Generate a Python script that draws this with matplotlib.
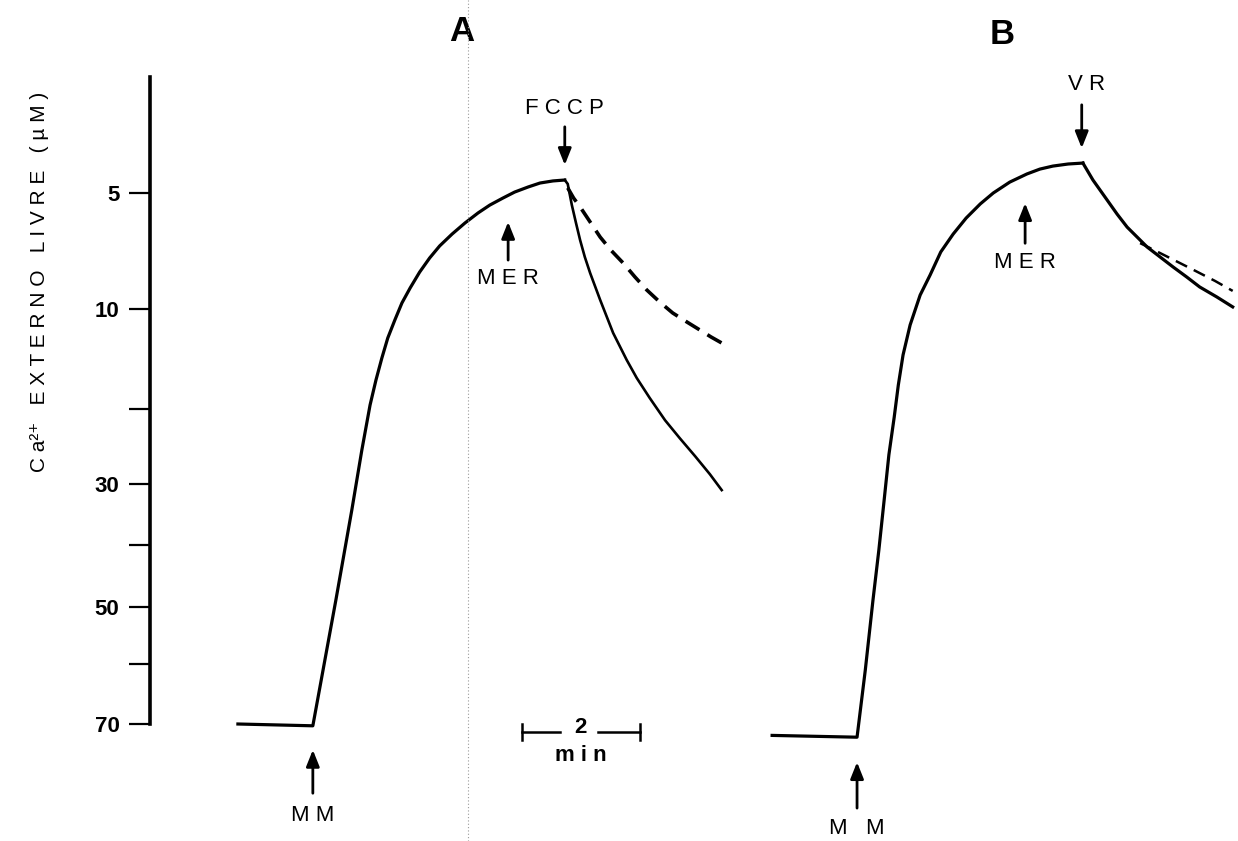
import numpy as np
import matplotlib
matplotlib.use('Agg')
import matplotlib.pyplot as plt
from matplotlib.lines import Line2D
from matplotlib.ticker import NullLocator

plt.rcParams['font.family'] = ['Liberation Sans', 'DejaVu Sans']

# electrode calibration of the chart: free Ca (uM) -> chart position (px from top)
cal_conc = [0, 5, 10, 20, 30, 40, 50, 60, 70, 80, 90]
cal_pos = [77, 193, 309, 409, 484, 545, 607, 664, 724, 784, 844]

ytick_vals = [5, 10, 20, 30, 40, 50, 60, 70]
ytick_labels = ['5', '10', '', '30', '', '50', '', '70']

# trace A: uptake after MM, then FCCP release (time in min, Ca in uM)
a_t = [0.00, 1.27, 1.66, 1.93, 2.10, 2.24, 2.34, 2.44, 2.54, 2.66, 2.78, 2.92, 3.08,
       3.25, 3.42, 3.63, 3.85, 4.07, 4.27, 4.49, 4.69, 4.92, 5.12, 5.34, 5.54]
a_ca = [70.0, 70.3, 48.9, 34.3, 25.5, 19.6, 17.1, 14.9, 12.9, 11.1, 9.74, 9.09, 8.41,
        7.80, 7.28, 6.77, 6.29, 5.86, 5.52, 5.22, 4.96, 4.74, 4.57, 4.48, 4.44]
a_fccp_t = [5.54, 5.59, 5.66, 5.73, 5.80, 5.88, 5.97, 6.14, 6.36, 6.59, 6.76, 6.98,
            7.24, 7.49, 7.75, 8.00, 8.20]
a_fccp_ca = [4.44, 4.61, 5.52, 6.29, 7.03, 7.76, 8.45, 9.61, 12.4, 15.1, 16.9, 18.9,
             21.5, 23.9, 26.3, 28.7, 31.0]
a_dash_t = [5.59, 5.69, 5.80, 5.97, 6.14, 6.32, 6.53, 6.73, 6.93, 7.15, 7.37, 7.61,
            7.83, 8.02, 8.20]
a_dash_ca = [4.78, 5.22, 5.60, 6.25, 6.90, 7.46, 8.02, 8.62, 9.18, 9.70, 10.4, 11.3,
             12.1, 12.8, 13.4]

# trace B: uptake after MM, then VR release
b_t = [0.00, 1.44, 1.58, 1.71, 1.81, 1.90, 1.98, 2.07, 2.14, 2.22, 2.34, 2.51, 2.68,
       2.86, 3.07, 3.29, 3.53, 3.75, 4.03, 4.32, 4.54, 4.76, 5.02, 5.27]
b_ca = [71.9, 72.2, 61.0, 48.9, 40.8, 32.6, 26.1, 21.1, 17.6, 14.6, 11.6, 9.40, 8.53,
        7.54, 6.77, 6.08, 5.47, 5.00, 4.53, 4.18, 3.97, 3.84, 3.75, 3.71]
b_vr_t = [5.27, 5.34, 5.44, 5.56, 5.68, 5.85, 6.02, 6.19, 6.36, 6.58, 6.80, 7.03,
          7.25, 7.54, 7.81]
b_vr_ca = [3.71, 4.01, 4.44, 4.87, 5.30, 5.91, 6.47, 6.90, 7.33, 7.76, 8.19, 8.62,
           9.05, 9.48, 9.91]
b_dash_t = [6.24, 6.58, 7.08, 7.51, 7.81]
b_dash_ca = [7.16, 7.59, 8.23, 8.79, 9.22]

# additions (min)
a_mm, a_mer, a_fccp = 1.27, 4.58, 5.54
b_mm, b_mer, b_vr = 1.44, 4.29, 5.25


def fwd(c):
    return np.interp(c, cal_conc, cal_pos)


def inv(p):
    return np.interp(p, cal_pos, cal_conc)


W, H = 1238, 841
fig = plt.figure(figsize=(W / 100, H / 100), dpi=100)

# axes in pixel terms: y from 724 (70 uM) up to 77 (0 uM), 59 px per min
bot, top = (H - 724) / H, 647 / H
axA = fig.add_axes([150 / W, bot, 590 / W, top])
axB = fig.add_axes([745 / W, bot, 493 / W, top])

for ax, x0, x1 in [(axA, -1.49, 8.51), (axB, -0.46, 7.90)]:
    ax.set_yscale('function', functions=(fwd, inv))
    ax.set_ylim(70, 0)
    ax.set_xlim(x0, x1)
    ax.patch.set_alpha(0)
    for s in ['top', 'right', 'bottom']:
        ax.spines[s].set_visible(False)
    ax.set_xticks([])
    ax.yaxis.set_minor_locator(NullLocator())

axA.spines['left'].set_linewidth(2.6)
axA.set_yticks(ytick_vals, ytick_labels)
axA.tick_params(axis='y', length=15, width=1.6, pad=7, labelsize=16)
for lab in axA.get_yticklabels():
    lab.set_fontweight('bold')
axB.spines['left'].set_visible(False)
axB.set_yticks([])

# traces
axA.plot(a_t, a_ca, color='k', lw=2.3, solid_joinstyle='round', clip_on=False)
axA.plot(a_fccp_t, a_fccp_ca, color='k', lw=1.9, solid_joinstyle='round', clip_on=False)
axA.plot(a_dash_t, a_dash_ca, color='k', lw=2.6, ls=(0, (4.5, 2.6)), clip_on=False)

axB.plot(b_t, b_ca, color='k', lw=2.3, solid_joinstyle='round', clip_on=False)
axB.plot(b_vr_t, b_vr_ca, color='k', lw=2.3, solid_joinstyle='round', clip_on=False)
axB.plot(b_dash_t, b_dash_ca, color='k', lw=1.8, ls=(0, (5, 3)), clip_on=False)


def mark(ax, t, y_tip, y_tail, y_txt, label, tx=None):
    tr = ax.get_xaxis_transform()
    ax.annotate('', xy=(t, y_tip), xytext=(t, y_tail), xycoords=tr, textcoords=tr,
                annotation_clip=False,
                arrowprops=dict(arrowstyle='-|>,head_length=0.55,head_width=0.22',
                                lw=2.0, color='k', shrinkA=0, shrinkB=0,
                                mutation_scale=18))
    ax.text(t if tx is None else tx, y_txt, label, transform=tr, ha='center',
            va='center', fontsize=16)


mark(axA, a_mm, -0.040, -0.107, -0.141, 'M M')
mark(axA, a_mer, 0.776, 0.717, 0.688, 'M E R')
mark(axA, a_fccp, 0.864, 0.923, 0.952, 'F C C P')
mark(axB, b_mm, -0.059, -0.130, -0.161, 'M   M')
mark(axB, b_mer, 0.805, 0.743, 0.713, 'M E R')
mark(axB, b_vr, 0.890, 0.957, 0.988, 'V R', tx=b_vr + 0.09)

trA, trB = axA.get_xaxis_transform(), axB.get_xaxis_transform()
axA.text(3.80, 1.071, 'A', transform=trA, ha='center', va='center',
         fontsize=25, fontweight='bold')
axB.text(3.90, 1.066, 'B', transform=trB, ha='center', va='center',
         fontsize=25, fontweight='bold')

# 2 min scale bar
sb0 = 4.81
axA.plot([sb0, sb0 + 0.65], [-0.012, -0.012], color='k', lw=1.8, transform=trA, clip_on=False)
axA.plot([sb0 + 1.30, sb0 + 2.0], [-0.012, -0.012], color='k', lw=1.8, transform=trA, clip_on=False)
for xe in [sb0, sb0 + 2.0]:
    axA.plot([xe, xe], [-0.024, 0.0], color='k', lw=1.8, transform=trA, clip_on=False)
axA.text(sb0 + 1.0, -0.006, '2', transform=trA, ha='center', va='center', fontsize=16,
         fontweight='bold')
axA.text(sb0 + 1.0, -0.048, 'm i n', transform=trA, ha='center', va='center', fontsize=16,
         fontweight='bold')

# y label
fig.text(40 / W, 1 - 282 / H, 'C a\u00b2\u207a   E X T E R N O   L I V R E   ( \u00b5 M )',
         rotation=90, ha='center', va='center', fontsize=15)

# faint dotted fold line of the scanned page
fig.add_artist(Line2D([468 / W, 468 / W], [0, 1], transform=fig.transFigure,
                      color='0.6', lw=0.8, ls=(0, (1, 2))))

fig.savefig('out.png', dpi=100)
